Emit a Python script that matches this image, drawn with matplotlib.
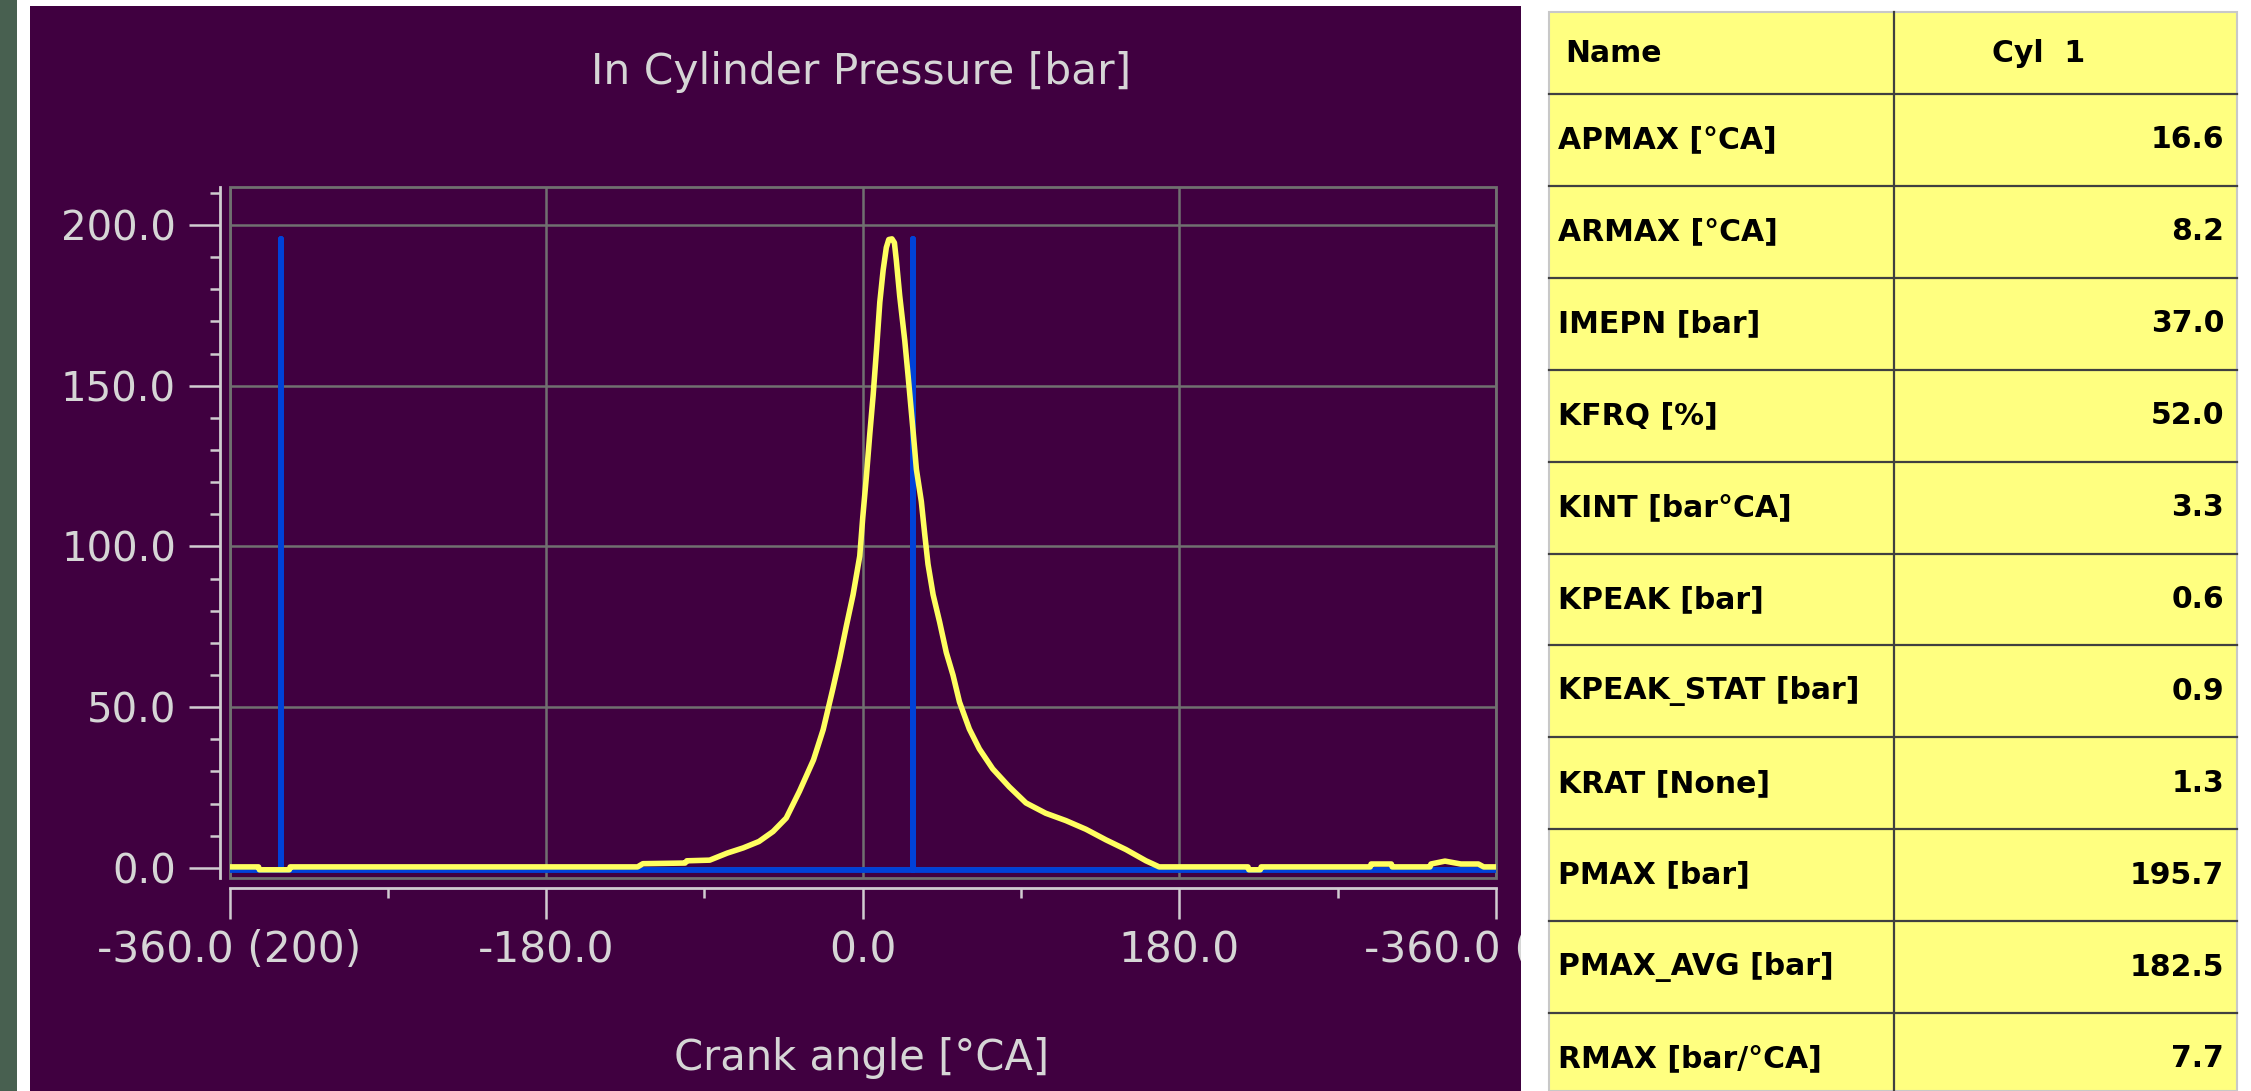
import matplotlib
matplotlib.use("Agg")
import matplotlib.pyplot as plt
import matplotlib.ticker as ticker
from matplotlib.patches import Rectangle

# pressure trace (crank angle in degrees, pressure in bar)
CRANK_ANGLE = [
    -360, -343.5, -343, -326, -325.5, -128, -125, -101, -100, -87, -77, -68,
    -59, -51, -43.5, -36, -28, -22.5, -17, -13, -9.3, -5.5, -1.7, 0, 2.1, 4,
    5.9, 7.8, 9.7, 11.6, 13.4, 14.8, 16.6, 18, 19.1, 21, 23.9, 25.8, 28.6,
    30.5, 33.3, 35.2, 37.1, 40, 43.7, 47.5, 51.3, 55, 60.6, 66.3, 73.9, 83.3,
    92.8, 104, 115.5, 126.9, 138.3, 149.6, 161, 165, 168.5, 219, 219.5, 226,
    226.5, 288.5, 289, 300.5, 301, 322.5, 323, 331, 340, 350, 353, 360,
]
PRESSURE = [
    0.3, 0.3, -0.6, -0.6, 0.3, 0.3, 1.3, 1.5, 2.2, 2.4, 4.6, 6.2,
    8.2, 11.3, 15.5, 23.8, 33.6, 43.0, 55.7, 65.4, 75.3, 85.0, 97.0, 109.0, 122.0, 135.0,
    147.0, 161.0, 176.0, 186.0, 193.0, 195.5, 195.7, 194.5, 189.0, 178.0, 164.0, 153.0, 136.0,
    124.0, 114.0, 104.0, 94.5, 85.0, 76.5, 67.0, 60.0, 51.6, 43.2, 37.0, 30.8, 25.2,
    20.2, 17.0, 14.7, 12.0, 8.7, 5.7, 2.2, 1.2, 0.3, 0.3, -0.6, -0.6,
    0.3, 0.3, 1.2, 1.2, 0.3, 0.3, 1.2, 2.1, 1.2, 1.2, 0.3, 0.3,
]

# window markers
MARKER_ANGLE = [-360, -331, -331, -331, 28.5, 28.5, 28.5, 360]
MARKER_LEVEL = [-0.7, -0.7, 195.7, -0.7, -0.7, 195.7, -0.7, -0.7]

X_TICKS = [-360, -180, 0, 180, 360]
X_TICK_LABELS = ["-360.0 (200)", "-180.0", "0.0", "180.0", "-360.0 (201)"]

TABLE_HEADER = ["Name", "Cyl  1"]
TABLE_NAMES = [
    "APMAX [°CA]", "ARMAX [°CA]", "IMEPN [bar]", "KFRQ [%]", "KINT [bar°CA]",
    "KPEAK [bar]", "KPEAK_STAT [bar]", "KRAT [None]", "PMAX [bar]",
    "PMAX_AVG [bar]", "RMAX [bar/°CA]",
]
TABLE_VALUES = ["16.6", "8.2", "37.0", "52.0", "3.3", "0.6", "0.9", "1.3",
                "195.7", "182.5", "7.7"]

W, H = 2251, 1091
PURPLE = "#400040"
GRID = "#707070"
TEXT = "#d6d6d6"


def fx(px):
    return px / W


def fy(py):
    return 1 - py / H


def main() -> None:
    fig = plt.figure(figsize=(W / 100, H / 100), dpi=100, facecolor="white")

    # window chrome around the plot panel
    fig.patches.append(Rectangle((0, 0), fx(17), 1, transform=fig.transFigure,
                                 facecolor="#486050", edgecolor="none", zorder=-5))
    fig.patches.append(Rectangle((fx(30), 0), fx(1521 - 30), fy(6), transform=fig.transFigure,
                                 facecolor=PURPLE, edgecolor="none", zorder=-5))

    ax = fig.add_axes([fx(229.5), fy(877.5), fx(1496 - 229.5), (877.5 - 186.5) / H])
    ax.set_facecolor(PURPLE)
    ax.plot(MARKER_ANGLE, MARKER_LEVEL, color="#0042d8", lw=4.2, zorder=3)
    ax.plot(CRANK_ANGLE, PRESSURE, color="#ffff60", lw=4.0, zorder=4)

    ax.set_xlim(-360, 360)
    ax.set_ylim(-3, 212)
    ax.set_xticks(X_TICKS)
    ax.set_xticklabels(X_TICK_LABELS)
    ax.xaxis.set_minor_locator(ticker.MultipleLocator(90))
    ax.yaxis.set_major_locator(ticker.MultipleLocator(50))
    ax.yaxis.set_minor_locator(ticker.MultipleLocator(10))
    ax.yaxis.set_major_formatter(ticker.FormatStrFormatter("%.1f"))

    ax.grid(True, which="major", color=GRID, lw=1.8)
    ax.set_axisbelow(True)
    ax.add_patch(Rectangle((0, 0), 1, 1, transform=ax.transAxes, fill=False,
                           edgecolor=GRID, lw=2.0, zorder=2, clip_on=False))

    for side in ("top", "right"):
        ax.spines[side].set_visible(False)
    ax.spines["left"].set_position(("outward", 6.5))
    ax.spines["bottom"].set_position(("outward", 7.2))
    for side in ("left", "bottom"):
        ax.spines[side].set_color("#d0ccd0")
        ax.spines[side].set_linewidth(2.0)

    ax.tick_params(which="both", colors="#d0ccd0", width=1.8, direction="out")
    ax.tick_params(which="major", length=22, labelcolor=TEXT)
    ax.tick_params(which="minor", length=7.5)
    ax.tick_params(axis="y", which="major", pad=10, labelsize=29)
    ax.tick_params(axis="x", which="major", pad=8, labelsize=30.5)

    fig.text(fx(861.5), fy(72), "In Cylinder Pressure [bar]", color=TEXT,
             fontsize=30.5, ha="center", va="center")
    fig.text(fx(861.5), fy(1058), "Crank angle [°CA]", color=TEXT,
             fontsize=30, ha="center", va="center")

    # result table on the right, drawn in pixel coordinates
    tab = fig.add_axes([fx(1521), 0, fx(W - 1521), 1])
    tab.set_zorder(5)
    tab.set_facecolor("white")
    tab.set_xlim(1521, W)
    tab.set_ylim(H, 0)
    tab.set_xticks([])
    tab.set_yticks([])
    for spine in tab.spines.values():
        spine.set_visible(False)

    left, right, top, mid = 1549, 2237, 12, 1894
    first_line, row_h = 94, 91.9
    tab.add_patch(Rectangle((left, top), right - left, H - top, facecolor="#ffff80",
                            edgecolor="#c8c8c8", lw=1.5))
    tab.plot([mid, mid], [top, H], color="#404040", lw=1.6)
    for k in range(len(TABLE_NAMES)):
        y = first_line + k * row_h
        tab.plot([left, right], [y, y], color="#404040", lw=1.6)

    font = dict(fontsize=21.5, fontweight="bold", color="black", va="center")
    tab.text(1565, (top + first_line) / 2, TABLE_HEADER[0], ha="left", **font)
    tab.text(2039, (top + first_line) / 2, TABLE_HEADER[1], ha="center", **font)
    for k, (name, value) in enumerate(zip(TABLE_NAMES, TABLE_VALUES)):
        yc = first_line + (k + 0.5) * row_h
        tab.text(1558, yc, name, ha="left", **font)
        tab.text(2224, yc, value, ha="right", **font)

    fig.savefig("out.png", dpi=100)


if __name__ == "__main__":
    main()
